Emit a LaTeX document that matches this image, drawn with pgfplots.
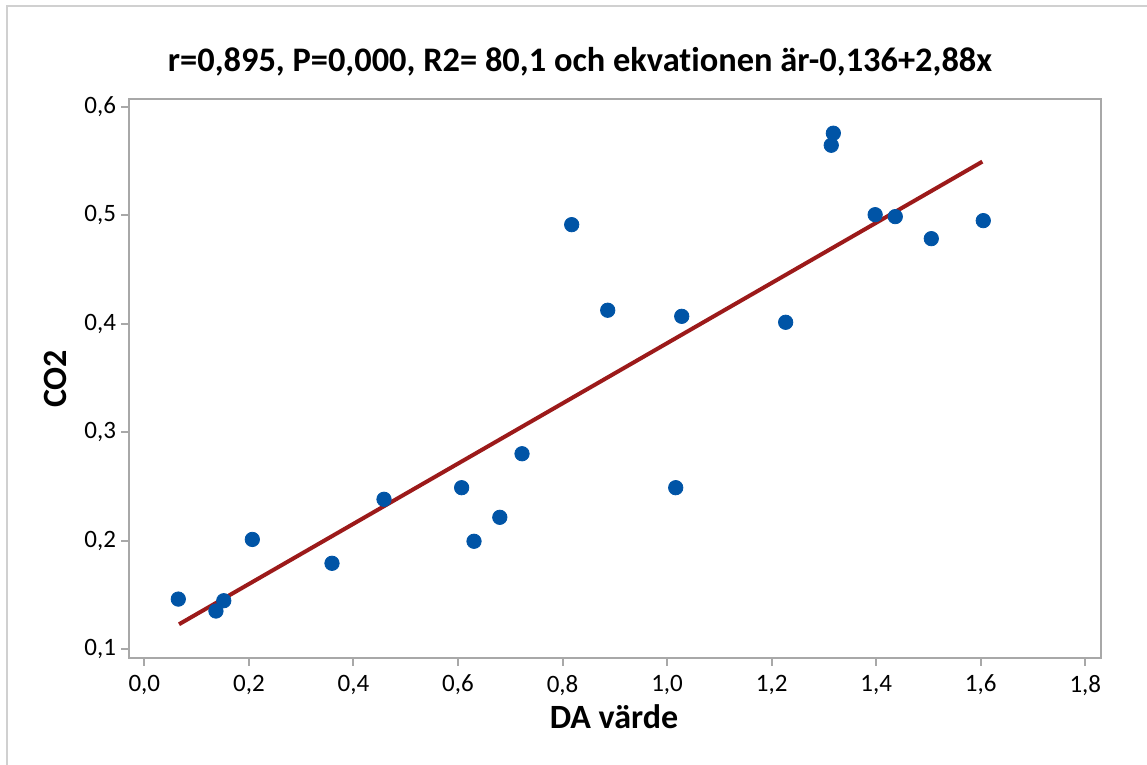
\documentclass[border=0pt]{standalone}
\usepackage{pgfplots}
\pgfplotsset{compat=1.18}
\usepackage{fontspec}
\setmainfont{Carlito}[Ligatures=NoCommon]
\definecolor{ptblue}{HTML}{0054A6}
\definecolor{fitred}{HTML}{9C1A1A}
\definecolor{axgray}{HTML}{A8A8A8}
\definecolor{framegray}{HTML}{D0D0D0}
\begin{document}
\begin{tikzpicture}
\useasboundingbox (0,0) rectangle (573.5pt,382.5pt);
% outer frame (top and left)
\draw[framegray, line width=1pt] (3.5pt,0pt) -- (3.5pt,379.5pt) -- (573.5pt,379.5pt);
\begin{axis}[
  at={(64.5pt,53.5pt)}, anchor=south west,
  width=486pt, height=279.25pt, scale only axis,
  xmin=-0.0293, xmax=1.830, ymin=0.0917, ymax=0.6066,
  xtick={0,0.2,...,1.8}, ytick={0.1,0.2,...,0.6},
  axis line style={axgray, line width=1pt},
  tick style={axgray, line width=1pt},
  tick align=outside, major tick length=4pt,
  xtick pos=bottom, ytick pos=left,
  /pgf/number format/assume math mode=true,
  /pgf/number format/.cd, fixed, fixed zerofill, precision=1, use comma,
  /pgfplots/.cd,
  ticklabel style={font=\fontsize{12.5}{14}\selectfont},
  xticklabel style={yshift=-1pt},
  yticklabel style={xshift=1pt},
  clip=false,
]
\addplot[only marks, mark=*, mark size=3.6pt, mark options={fill=ptblue, draw=ptblue}] coordinates {
(0.065,0.146) (0.137,0.135) (0.152,0.1445) (0.2066,0.201) (0.359,0.179)
(0.4585,0.238) (0.607,0.2487) (0.6307,0.1993) (0.680,0.2214) (0.7225,0.280)
(0.8175,0.4912) (0.8864,0.4123) (1.0165,0.2487) (1.028,0.4067) (1.2268,0.4012)
(1.314,0.5644) (1.318,0.5755) (1.398,0.5004) (1.4365,0.4986) (1.5054,0.4783)
(1.6048,0.4949)
};
\addplot[fitred, line width=2pt] coordinates {(0.0664,0.1228) (1.603,0.5493)};
\end{axis}
\node[font=\fontsize{17.2}{20}\bfseries] at (290pt,351.5pt) {r=0,895, P=0,000, R2= 80,1 och ekvationen är-0,136+2,88x};
\node[font=\fontsize{17}{20}\bfseries] at (307pt,24pt) {DA värde};
\node[font=\fontsize{17}{20}\bfseries, rotate=90] at (27.5pt,193pt) {CO2};
\end{tikzpicture}
\end{document}
